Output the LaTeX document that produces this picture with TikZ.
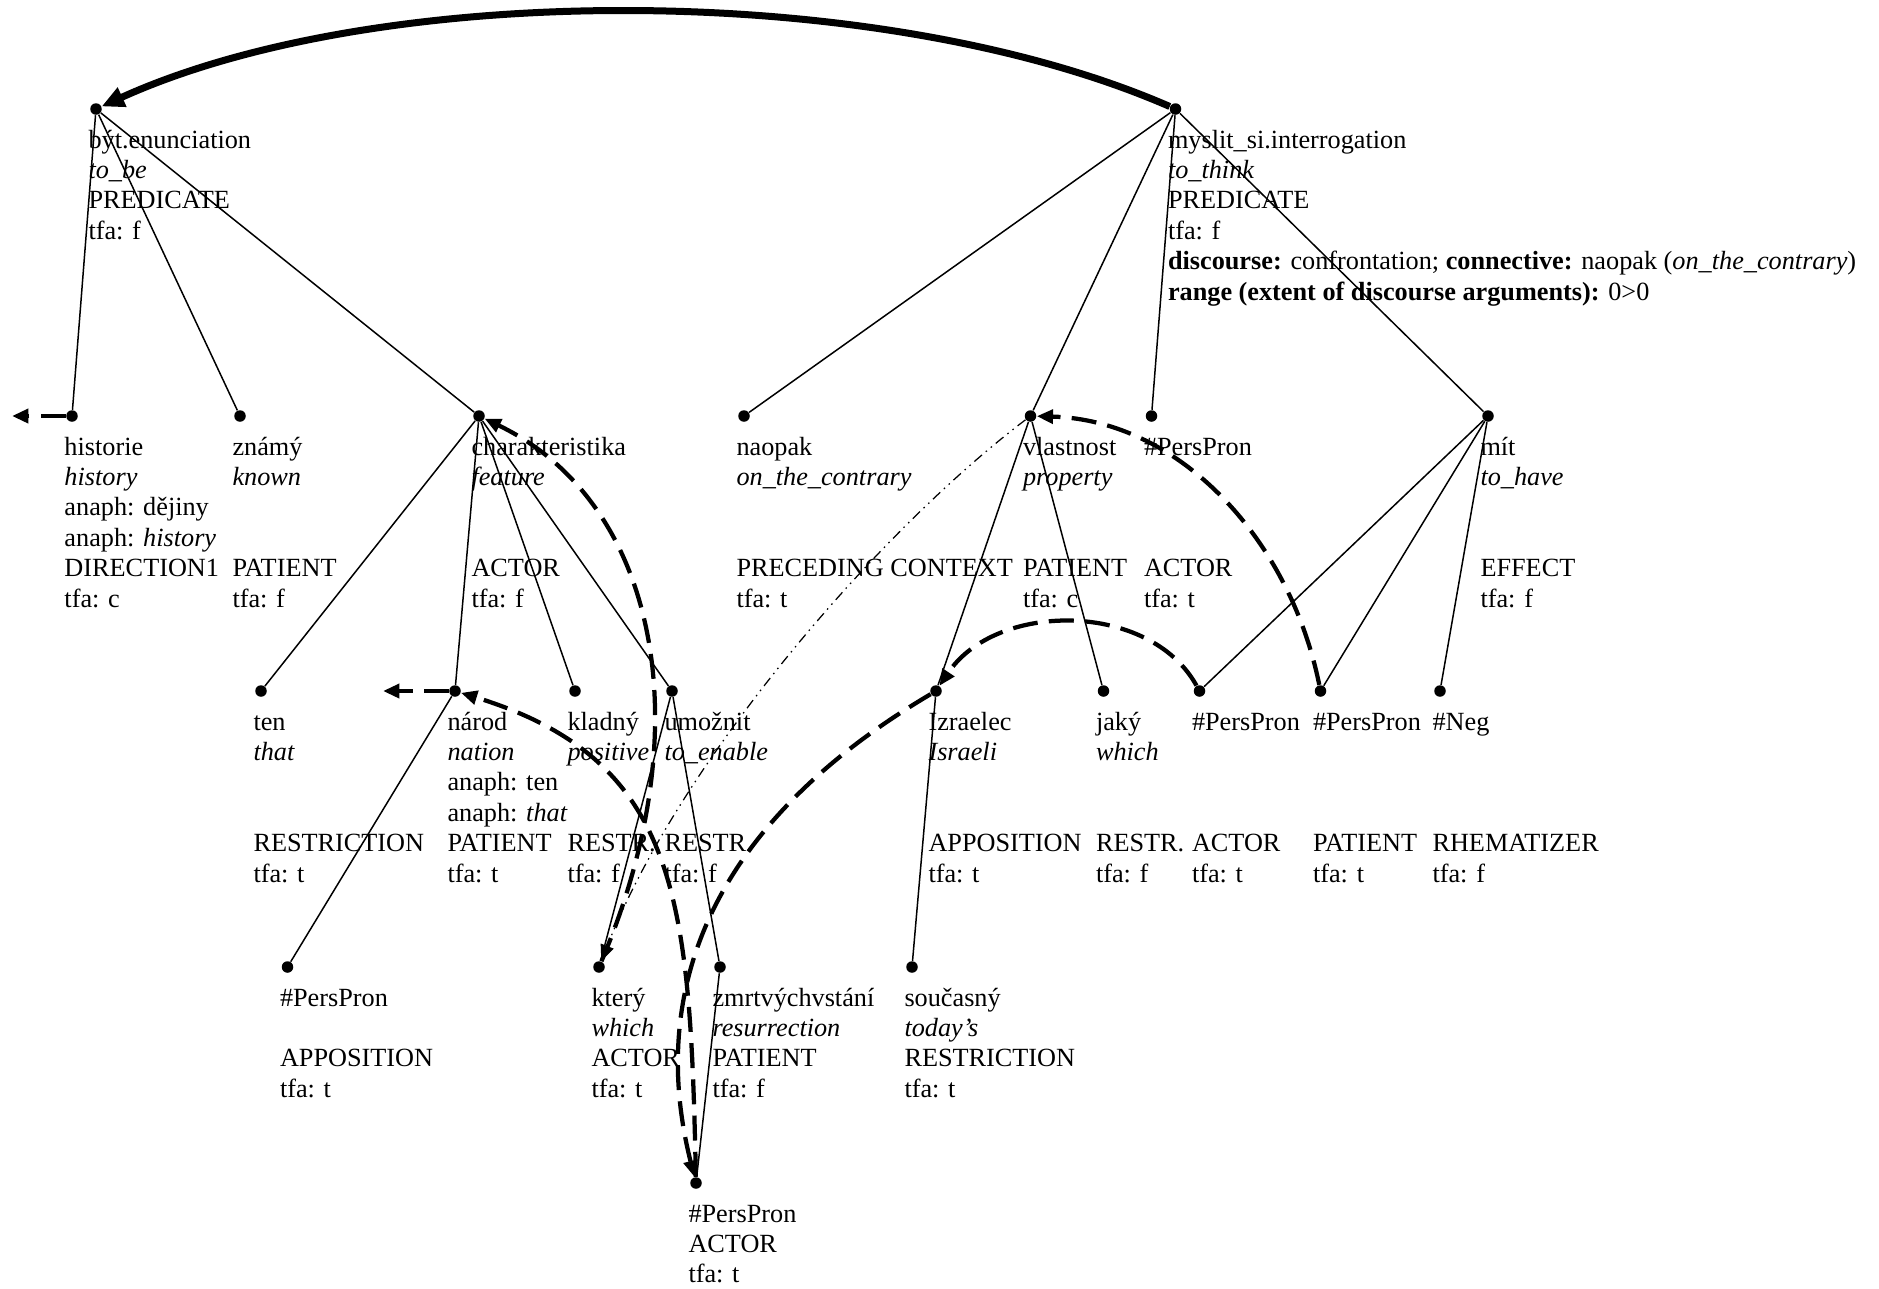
\documentclass[tikz,border=0pt]{standalone}
\usepackage{fontspec}
\setmainfont{Liberation Serif}
\usepackage{tikz}
\usetikzlibrary{arrows.meta}
\tikzset{>={Triangle[length=6.5pt,width=5.5pt]}}
\tikzset{
  dot/.style={circle,fill=black,inner sep=0pt,minimum size=4.6pt},
  lbl/.style={anchor=north west,align=left,inner sep=0pt,xshift=-3.2pt,yshift=-7.4pt,
    font=\fontsize{10.5}{12.16}\selectfont},
  edge/.style={line width=0.6pt},
  coref/.style={line width=1.7pt,dash pattern=on 10pt off 4.5pt,->},
  bridge/.style={line width=0.5pt,dash pattern=on 4pt off 2pt on 0.6pt off 2pt on 0.6pt off 2pt,->},
  disc/.style={line width=2.8pt,-{Triangle[length=9pt,width=8pt]}}
}
\newcommand{\fst}{\rule{0pt}{8pt}}

\begin{document}
\begin{tikzpicture}[x=0.4pt,y=-0.4pt]
\useasboundingbox (0,0) rectangle (1879,1288);

% top level
\node[dot] (byt) at (96,109) {};
\node[dot] (myslit) at (1175.5,109) {};
% second level
\node[dot] (historie) at (72,416) {};
\node[dot] (znamy) at (240,416) {};
\node[dot] (charakt) at (479,416) {};
\node[dot] (naopak) at (744,416) {};
\node[dot] (vlastnost) at (1030.5,416) {};
\node[dot] (pp1) at (1151.5,416) {};
\node[dot] (mit) at (1488,416) {};
% third level
\node[dot] (ten) at (261,691) {};
\node[dot] (narod) at (455,691) {};
\node[dot] (kladny) at (575,691) {};
\node[dot] (umoznit) at (672,691) {};
\node[dot] (izraelec) at (936,691) {};
\node[dot] (jaky) at (1103.5,691) {};
\node[dot] (ppa) at (1199.5,691) {};
\node[dot] (ppb) at (1320.5,691) {};
\node[dot] (neg) at (1440,691) {};
% fourth and fifth level
\node[dot] (ppc) at (287.5,967) {};
\node[dot] (ktery) at (599,967) {};
\node[dot] (zmrt) at (720,967) {};
\node[dot] (soucasny) at (912,967) {};
\node[dot] (ppd) at (696,1183) {};
\coordinate (historie-out) at (12,416);
\coordinate (narod-out) at (383,691);

% labels
\node[lbl] (byt-t) at (byt.center) {\fst být.enunciation\\\textit{to\_be}\\PREDICATE\\tfa: f};
\node[lbl] (myslit-t) at (myslit.center) {\fst myslit\_si.interrogation\\\textit{to\_think}\\PREDICATE\\tfa: f\\
  \textbf{discourse:} confrontation; \textbf{connective:} naopak (\textit{on\_the\_contrary})\\
  \textbf{range (extent of discourse arguments):} 0>0};
\node[lbl] (historie-t) at (historie.center) {\fst historie\\\textit{history}\\anaph: dějiny\\anaph: \textit{history}\\DIRECTION1\\tfa: c};
\node[lbl] (znamy-t) at (znamy.center) {\fst známý\\\textit{known}\\ \\ \\ PATIENT\\ tfa: f};
\node[lbl] (charakt-t) at (charakt.center) {\fst charakteristika\\\textit{feature}\\ \\ \\ ACTOR\\ tfa: f};
\node[lbl] (naopak-t) at (naopak.center) {\fst naopak\\\textit{on\_the\_contrary}\\ \\ \\ PRECEDING CONTEXT\\ tfa: t};
\node[lbl] (vlastnost-t) at (vlastnost.center) {\fst vlastnost\\\textit{property}\\ \\ \\ PATIENT\\ tfa: c};
\node[lbl] (pp1-t) at (pp1.center) {\fst \#PersPron\\ \\ \\ \\ ACTOR\\ tfa: t};
\node[lbl] (mit-t) at (mit.center) {\fst mít\\\textit{to\_have}\\ \\ \\ EFFECT\\ tfa: f};
\node[lbl] (ten-t) at (ten.center) {\fst ten\\\textit{that}\\ \\ \\ RESTRICTION\\ tfa: t};
\node[lbl] (narod-t) at (narod.center) {\fst národ\\\textit{nation}\\anaph: ten\\anaph: \textit{that}\\PATIENT\\tfa: t};
\node[lbl] (kladny-t) at (kladny.center) {\fst kladný\\\textit{positive}\\ \\ \\ RESTR.\\ tfa: f};
\node[lbl] (umoznit-t) at (umoznit.center) {\fst umožnit\\\textit{to\_enable}\\ \\ \\ RESTR.\\ tfa: f};
\node[lbl] (izraelec-t) at (izraelec.center) {\fst Izraelec\\\textit{Israeli}\\ \\ \\ APPOSITION\\ tfa: t};
\node[lbl] (jaky-t) at (jaky.center) {\fst jaký\\\textit{which}\\ \\ \\ RESTR.\\ tfa: f};
\node[lbl] (ppa-t) at (ppa.center) {\fst \#PersPron\\ \\ \\ \\ ACTOR\\ tfa: t};
\node[lbl] (ppb-t) at (ppb.center) {\fst \#PersPron\\ \\ \\ \\ PATIENT\\ tfa: t};
\node[lbl] (neg-t) at (neg.center) {\fst \#Neg\\ \\ \\ \\ RHEMATIZER\\ tfa: f};
\node[lbl] (ppc-t) at (ppc.center) {\fst \#PersPron\\ \\ APPOSITION\\ tfa: t};
\node[lbl] (ktery-t) at (ktery.center) {\fst který\\\textit{which}\\ACTOR\\tfa: t};
\node[lbl] (zmrt-t) at (zmrt.center) {\fst zmrtvýchvstání\\\textit{resurrection}\\PATIENT\\tfa: f};
\node[lbl] (soucasny-t) at (soucasny.center) {\fst současný\\\textit{today’s}\\RESTRICTION\\tfa: t};
\node[lbl] (ppd-t) at (ppd.center) {\fst \#PersPron\\ACTOR\\tfa: t};

% tree edges
\draw[edge] (byt) -- (historie);
\draw[edge] (byt) -- (znamy);
\draw[edge] (byt) -- (charakt);
\draw[edge] (myslit) -- (naopak);
\draw[edge] (myslit) -- (vlastnost);
\draw[edge] (myslit) -- (pp1);
\draw[edge] (myslit) -- (mit);
\draw[edge] (charakt) -- (ten);
\draw[edge] (charakt) -- (narod);
\draw[edge] (charakt) -- (kladny);
\draw[edge] (charakt) -- (umoznit);
\draw[edge] (vlastnost) -- (izraelec);
\draw[edge] (vlastnost) -- (jaky);
\draw[edge] (mit) -- (ppa);
\draw[edge] (mit) -- (ppb);
\draw[edge] (mit) -- (neg);
\draw[edge] (narod) -- (ppc);
\draw[edge] (umoznit) -- (ktery);
\draw[edge] (umoznit) -- (zmrt);
\draw[edge] (izraelec) -- (soucasny);
\draw[edge] (zmrt) -- (ppd);

% discourse and coreference
\draw[disc] (myslit) .. controls (880,-20) and (380,-20) .. (byt);
\draw[coref] (historie) -- (historie-out);
\draw[coref] (narod) -- (narod-out);
\draw[coref] (ktery) .. controls +(105,-247) and +(175,84) .. (charakt);
\draw[coref] (ppd) .. controls +(-6,-283) and +(225,69) .. (narod);
\draw[coref] (izraelec) .. controls +(-286,169) and +(-31,-123) .. (ppd);
\draw[coref] (ppa) .. controls +(-50,-90) and +(60,-90) .. (izraelec);
\draw[coref] (ppb) .. controls +(-30.5,-151) and +(149.5,4) .. (vlastnost);
\draw[bridge] (vlastnost) .. controls +(-150.5,114) and +(81,-207) .. (ktery);
\end{tikzpicture}
\end{document}
